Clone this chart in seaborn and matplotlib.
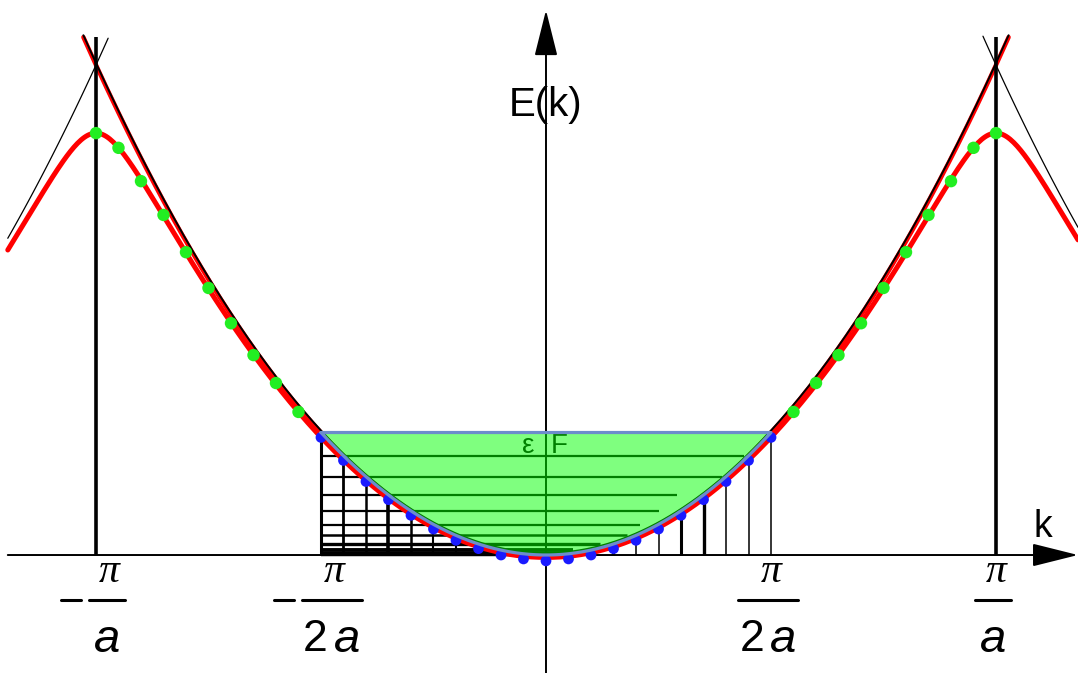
import numpy as np
import matplotlib
matplotlib.use('Agg')
import matplotlib.pyplot as plt
import seaborn as sns

# k in units of pi/a, E in units of the free-electron energy at k = pi/a
zone_edges = [-1.0, 1.0]
zone_top = 1.057
tick_k = [-1.0, -0.5, 0.5, 1.0]
tick_den = ['a', '2 a', '2 a', 'a']

e_fermi = 0.25
gap_half = 0.139          # half of the gap opened at the zone boundary

# dots (right half, mirrored to the left)
green_k = [0.55, 0.60, 0.65, 0.70, 0.75, 0.80, 0.85, 0.90, 0.95, 1.00]
green_e = [0.292, 0.351, 0.408, 0.473, 0.545, 0.618, 0.694, 0.763, 0.831, 0.861]
blue_k = [0.0, 0.05, 0.10, 0.15, 0.20, 0.25, 0.30, 0.35, 0.40, 0.45, 0.50]
blue_e = [-0.012, -0.008, 0.000, 0.013, 0.030, 0.053, 0.081, 0.113, 0.150, 0.193, 0.240]

# equal steps in k -> levels in E (left grid), with their right ends
grid_e = [0.203, 0.160, 0.122, 0.090, 0.062, 0.040, 0.022, 0.010, 0.003]
grid_end = [0.44, 0.39, 0.29, 0.25, 0.21, 0.18, 0.12, 0.06, 0.02]
grid_w = [1.6, 1.6, 1.6, 1.6, 1.6, 1.8, 2.4, 2.8, 3.2]
left_vk = [-0.50, -0.45, -0.40, -0.35, -0.30, -0.25, -0.20, -0.15]
left_vw = [2.2, 2.0, 1.8, 2.6, 1.8, 1.5, 1.5, 1.5]
right_vk = [0.15, 0.20, 0.25, 0.30, 0.35, 0.40, 0.45, 0.50]
right_vw = [2.2, 1.1, 1.1, 2.2, 2.4, 1.1, 1.1, 1.1]


def free(k, shift=0.0):
    return (np.asarray(k) - shift) ** 2


def lower_band(k):
    k = np.asarray(k)
    e0 = k ** 2
    e1 = (np.abs(k) - 2) ** 2
    return (e0 + e1) / 2 - np.sqrt(((e0 - e1) / 2) ** 2 + gap_half ** 2)


sns.set_style('white')
plt.rcParams['font.family'] = ['Liberation Sans', 'DejaVu Sans']
plt.rcParams['text.color'] = 'black'

fig = plt.figure(figsize=(10.78, 6.73), dpi=100)
ax = fig.add_axes([0, 0, 1, 1])
xmin, xmax = -1.2133, 1.1822
ymin, ymax = -0.2408, 1.1327
ax.set_xlim(xmin, xmax)
ax.set_ylim(ymin, ymax)
ax.axis('off')

# axes with arrows
arrow = dict(arrowstyle='-|>,head_length=0.4,head_width=0.1', mutation_scale=72,
             color='black', lw=1.4, shrinkA=0, shrinkB=0)
ax.annotate('', xy=(xmax, 0), xytext=(-1.196, 0), arrowprops=arrow, zorder=1)
ax.annotate('', xy=(0, 1.112), xytext=(0, ymin), arrowprops=arrow, zorder=1)

# counting grid under the filled region
ax.hlines(grid_e, -0.5, grid_end, color='black', lw=grid_w, zorder=1)
ax.vlines(left_vk, 0, free(left_vk), color='black', lw=left_vw, zorder=1)
ax.vlines(right_vk, 0, free(right_vk), color='black', lw=right_vw, zorder=1)

ax.text(-0.04, 0.222, 'ε', fontsize=20, ha='center', va='center', color='black', zorder=1)
ax.text(0.03, 0.222, 'F', fontsize=20, ha='center', va='center', color='black', zorder=1)

# shifted free-electron parabolas beyond the zone boundary
kl = np.linspace(-1.196, -0.973, 60)
kr = np.linspace(0.971, xmax, 60)
sns.lineplot(x=kl, y=free(kl, -2), color='black', lw=0.9, estimator=None, ax=ax, zorder=2)
sns.lineplot(x=kr, y=free(kr, 2), color='black', lw=0.9, estimator=None, ax=ax, zorder=2)

# free-electron parabola and nearly-free lower band
kp = np.linspace(-1.028, 1.028, 400)
sns.lineplot(x=kp, y=free(kp), color='red', lw=3.2, estimator=None, ax=ax, zorder=3)
sns.lineplot(x=kp, y=free(kp) + 0.004, color='black', lw=1.4, estimator=None, ax=ax, zorder=3.5)
kb = np.linspace(-1.196, xmax, 600)
sns.lineplot(x=kb, y=lower_band(kb), color='red', lw=3.6, estimator=None, ax=ax, zorder=3)

ax.vlines(zone_edges, 0, zone_top, color='black', lw=2.6, zorder=4)

bk = [-k for k in blue_k[:0:-1]] + blue_k
be = blue_e[:0:-1] + blue_e
sns.scatterplot(x=bk, y=be, color='#1a1aff', s=60, edgecolor='none', ax=ax, zorder=4)

# occupied states
kf = np.linspace(-0.5, 0.5, 200)
ax.fill_between(kf, free(kf), e_fermi, color=(0, 1, 0), alpha=0.5, lw=0, zorder=5)
sns.lineplot(x=np.r_[kf, -0.5], y=np.r_[free(kf), e_fermi], color='#6c8ccc', lw=2.3,
             estimator=None, sort=False, ax=ax, zorder=6)

gk = [-k for k in green_k[::-1]] + green_k
ge = green_e[::-1] + green_e
sns.scatterplot(x=gk, y=ge, color='#22ee22', s=80, edgecolor='none', ax=ax, zorder=7)

# labels
ax.text(-0.002, 0.918, 'E(k)', fontsize=29, ha='center', va='center', color='black')
ax.text(1.104, 0.057, 'k', fontsize=27, ha='center', va='center', color='black')

for k, den in zip(tick_k, tick_den):
    width = 0.08 if den == 'a' else 0.133
    cx = k + 0.024 if k < 0 else k - 0.006
    ax.text(cx + 0.006, 0.006, 'π', fontsize=30, family='Liberation Serif',
            style='italic', ha='center', va='top', color='black')
    ax.plot([cx - width / 2, cx + width / 2], [-0.092, -0.092], color='black', lw=2.2)
    if k < 0:
        left = cx - width / 2
        ax.plot([left - 0.062, left - 0.018], [-0.092, -0.092], color='black', lw=2.2)
    if den == 'a':
        ax.text(cx, -0.173, 'a', fontsize=34, style='italic', ha='center', va='center',
                color='black')
    else:
        ax.text(cx - 0.036, -0.173, '2', fontsize=32, ha='center', va='center', color='black')
        ax.text(cx + 0.033, -0.173, 'a', fontsize=34, style='italic', ha='center',
                va='center', color='black')

fig.savefig('out.png', dpi=100)
